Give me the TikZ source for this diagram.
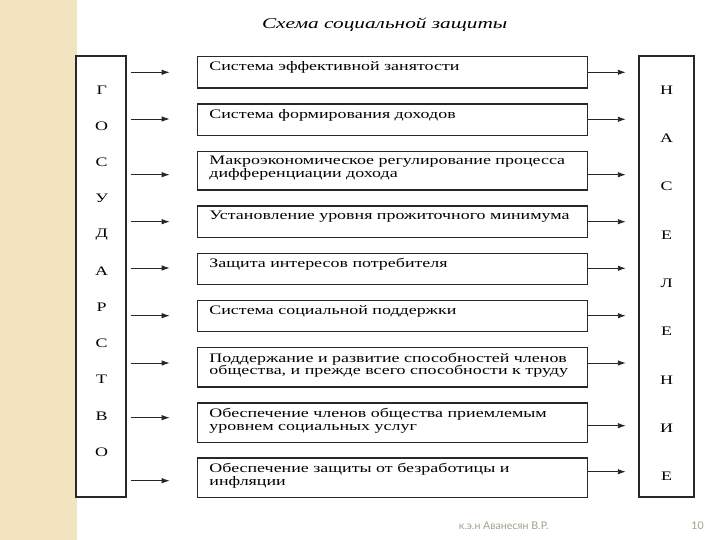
\documentclass[tikz,border=0pt]{standalone}
\usepackage{fontspec}
\usetikzlibrary{arrows.meta}
\setmainfont{Liberation Serif}
\newfontfamily\boxfont[FakeStretch=1.38]{Liberation Serif}
\newfontfamily\titlefont[FakeStretch=1.42]{Liberation Serif}
\newfontfamily\footfont{Lato}
\definecolor{beige}{RGB}{242,228,190}
\definecolor{footgray}{RGB}{160,160,140}
\definecolor{lineg}{RGB}{40,40,40}
\tikzset{
  sidebox/.style={draw=lineg, line width=1.4pt, inner sep=0pt},
  itembox/.style={draw=lineg, line width=1.4pt, inner sep=0pt},
  itemtext/.style={anchor=north west, inner sep=0pt, align=left,
     font=\boxfont\fontsize{13}{12.7}\selectfont, text=black},
  letter/.style={inner sep=0pt, font=\boxfont\fontsize{13}{13}\selectfont},
  arr/.style={line width=0.9pt, draw=black!85, -{Latex[length=8pt,width=5.5pt]}},
}
\begin{document}
\begin{tikzpicture}[x=1pt,y=-1pt]
\useasboundingbox (0,0) rectangle (720,540);
\fill[beige] (0,0) rectangle (77,540);
\node[inner sep=0pt, font=\titlefont\itshape\fontsize{15}{16}\selectfont] (title) at (384.7,25) {Схема социальной защиты};
% side boxes
\node[sidebox, minimum width=50pt, minimum height=441pt] (gov) at (101,276.5) {};
\node[sidebox, minimum width=55pt, minimum height=441pt] (pop) at (666.5,276.5) {};
% letters left
\foreach \L [count=\i] in {Г,О,С,У,Д,А,Р,С,Т,В,О}
  \node[letter] (gl\i) at (101.7, {90+(\i-1)*36.2}) {\L};
% letters right
\foreach \L [count=\i] in {Н,А,С,Е,Л,Е,Н,И,Е}
  \node[letter] (pl\i) at (666.7, {90+(\i-1)*48.3}) {\L};
% item boxes: top, bottom
\foreach \t/\b/\n in {56/87.3/1, 103.3/134.7/2, 150.7/189.3/3, 205.3/236.7/4, 252.7/284/5, 300/331/6, 347/386.3/7, 402.3/441.7/8, 457.3/496.7/9}
  \node[itembox, minimum width=390pt, minimum height={\b-\t}, anchor=north west] (b\n) at (196.7,\t) {};
\node[itemtext] (t1) at ([xshift=12.5pt,yshift=-5.5pt]b1.north west) {Система эффективной занятости};
\node[itemtext] (t2) at ([xshift=12.5pt,yshift=-5.5pt]b2.north west) {Система формирования доходов};
\node[itemtext] (t3) at ([xshift=12.5pt,yshift=-5.5pt]b3.north west) {Макроэкономическое регулирование процесса\\дифференциации дохода};
\node[itemtext] (t4) at ([xshift=12.5pt,yshift=-5.5pt]b4.north west) {Установление уровня прожиточного минимума};
\node[itemtext] (t5) at ([xshift=12.5pt,yshift=-5.5pt]b5.north west) {Защита интересов потребителя};
\node[itemtext] (t6) at ([xshift=12.5pt,yshift=-5.5pt]b6.north west) {Система социальной поддержки};
\node[itemtext] (t7) at ([xshift=12.5pt,yshift=-5.5pt]b7.north west) {Поддержание и развитие способностей членов\\общества, и прежде всего способности к труду};
\node[itemtext] (t8) at ([xshift=12.5pt,yshift=-6pt]b8.north west) {Обеспечение членов общества приемлемым\\уровнем социальных услуг};
\node[itemtext] (t9) at ([xshift=12.5pt,yshift=-5.5pt]b9.north west) {Обеспечение защиты от безработицы и\\инфляции};
% left arrows
\foreach \y/\n in {72.3/1, 119/2, 174.7/3, 221.7/4, 268/5, 315.7/6, 363/7, 417.7/8, 480.7/9}
  \draw[arr, shorten <=4pt, shorten >=27pt] (gov.east |- 0,\y) -- (b\n.west |- 0,\y);
% right arrows
\foreach \y/\n in {72.3/1, 119.3/2, 174.7/3, 221.7/4, 268.3/5, 315.7/6, 363/7, 425.7/8, 471.7/9}
  \draw[arr, shorten >=12.5pt] (b\n.east |- 0,\y) -- (pop.west |- 0,\y);
% footer
\node[inner sep=0pt, text=footgray, font=\footfont\fontsize{10.6}{12}\selectfont] (author) at (503.7,525.7) {к.э.н Аванесян В.Р.};
\node[inner sep=0pt, text=footgray, font=\footfont\fontsize{10.6}{12}\selectfont] (page) at (697.5,525.7) {10};
\end{tikzpicture}
\end{document}
